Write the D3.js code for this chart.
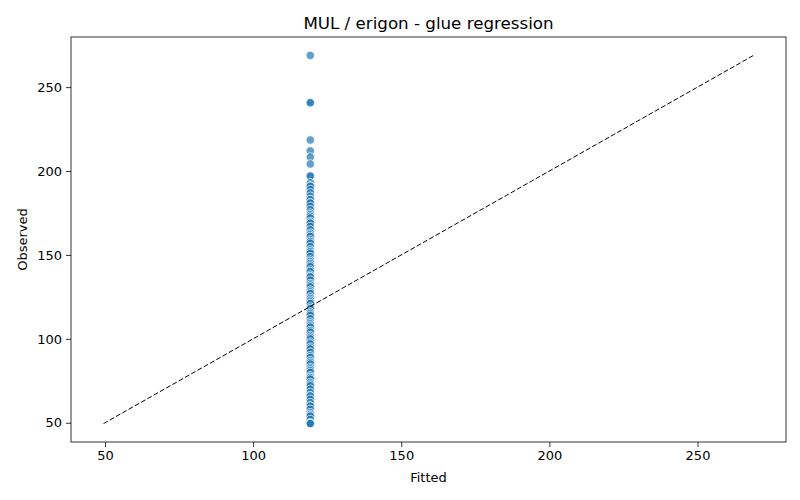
<!DOCTYPE html>
<html>
<head>
<meta charset="utf-8">
<script src="https://cdn.jsdelivr.net/npm/d3@7"></script>
<style>
  body { margin: 0; background: #fff; }
  text { font-family: "DejaVu Sans", sans-serif; }
</style>
</head>
<body>
<div class="container"></div>
<script>
var w = 800;
var h = 500;

// fitted value is the same for every row (intercept only model)
const fittedValue = 119.3;

const observed = [
  268.9, 240.7, 240.7, 218.5, 212, 208.3, 204.2,
  197, 197, 193, 191, 191, 189, 187, 185, 183, 183, 181, 181, 179, 177,
  175, 174, 173, 172, 170, 169, 169, 167, 165, 163, 162, 161, 159, 158,
  157, 155, 153, 152, 151, 149, 147, 146, 145, 144, 143, 141, 140, 138,
  137, 137, 135, 133, 132, 131, 129, 128, 127, 125, 124, 123, 122, 121,
  119, 118, 116, 115, 114, 112, 110, 109, 108, 107, 105, 104, 102, 101,
  100, 98, 97, 95, 94, 92, 90, 89, 87, 86, 85, 83, 82, 81, 80, 78, 77,
  77, 76, 74, 73, 72, 70, 68, 66, 66, 64, 62, 60, 60, 58, 56, 55, 54,
  54, 52, 50, 49.5, 49.5
];

const xTicks = [50, 100, 150, 200, 250];
const yTicks = [50, 100, 150, 200, 250];

const margin = { left: 71, right: 14, top: 37, bottom: 58 };

var svg = d3.select(".container")
  .append("svg")
  .attr("width", w)
  .attr("height", h);

// identity line spans min..max of everything
var lo = d3.min(observed.concat([fittedValue]));
var hi = d3.max(observed.concat([fittedValue]));
var pad = (hi - lo) * 0.05;

var xScale = d3.scaleLinear()
  .domain([lo - pad, hi + pad])
  .range([margin.left, w - margin.right]);
var yScale = d3.scaleLinear()
  .domain([lo - pad, hi + pad])
  .range([h - margin.bottom, margin.top]);

// points
svg.append("g")
  .selectAll("circle")
  .data(observed)
  .enter()
  .append("circle")
  .attr("cx", xScale(fittedValue))
  .attr("cy", d => yScale(d))
  .attr("r", 4.2)
  .attr("fill", "#1f77b4")
  .attr("fill-opacity", 0.7)
  .attr("stroke", "#fff")
  .attr("stroke-width", 0.75);

// dashed y = x line
svg.append("line")
  .attr("x1", xScale(lo))
  .attr("y1", yScale(lo))
  .attr("x2", xScale(hi))
  .attr("y2", yScale(hi))
  .attr("stroke", "#000")
  .attr("stroke-width", 1)
  .attr("stroke-dasharray", "5,2.2");

// axes
var xAxis = d3.axisBottom(xScale).tickValues(xTicks).tickSizeOuter(0).tickSize(5).tickPadding(4);
var yAxis = d3.axisLeft(yScale).tickValues(yTicks).tickSizeOuter(0).tickSize(5).tickPadding(4);

var gx = svg.append("g")
  .attr("transform", "translate(0," + (h - margin.bottom) + ")")
  .call(xAxis);
var gy = svg.append("g")
  .attr("transform", "translate(" + margin.left + ",0)")
  .call(yAxis);

[gx, gy].forEach(g => {
  g.select(".domain").remove();
  g.selectAll("line").attr("stroke", "#000").attr("stroke-width", 0.8);
  g.selectAll("text").attr("font-size", "13px").attr("fill", "#000")
    .style("font-family", "DejaVu Sans, sans-serif");
});

// frame
svg.append("rect")
  .attr("x", margin.left)
  .attr("y", margin.top)
  .attr("width", w - margin.left - margin.right)
  .attr("height", h - margin.top - margin.bottom)
  .attr("fill", "none")
  .attr("stroke", "#000")
  .attr("stroke-width", 0.8);

// labels
svg.append("text")
  .attr("x", (margin.left + w - margin.right) / 2)
  .attr("y", 29)
  .attr("text-anchor", "middle")
  .attr("font-size", "16.7px")
  .text("MUL / erigon - glue regression");

svg.append("text")
  .attr("x", (margin.left + w - margin.right) / 2)
  .attr("y", 482)
  .attr("text-anchor", "middle")
  .attr("font-size", "13px")
  .text("Fitted");

svg.append("text")
  .attr("transform", "translate(27," + ((margin.top + h - margin.bottom) / 2) + ") rotate(-90)")
  .attr("text-anchor", "middle")
  .attr("font-size", "13px")
  .text("Observed");
</script>
</body>
</html>
